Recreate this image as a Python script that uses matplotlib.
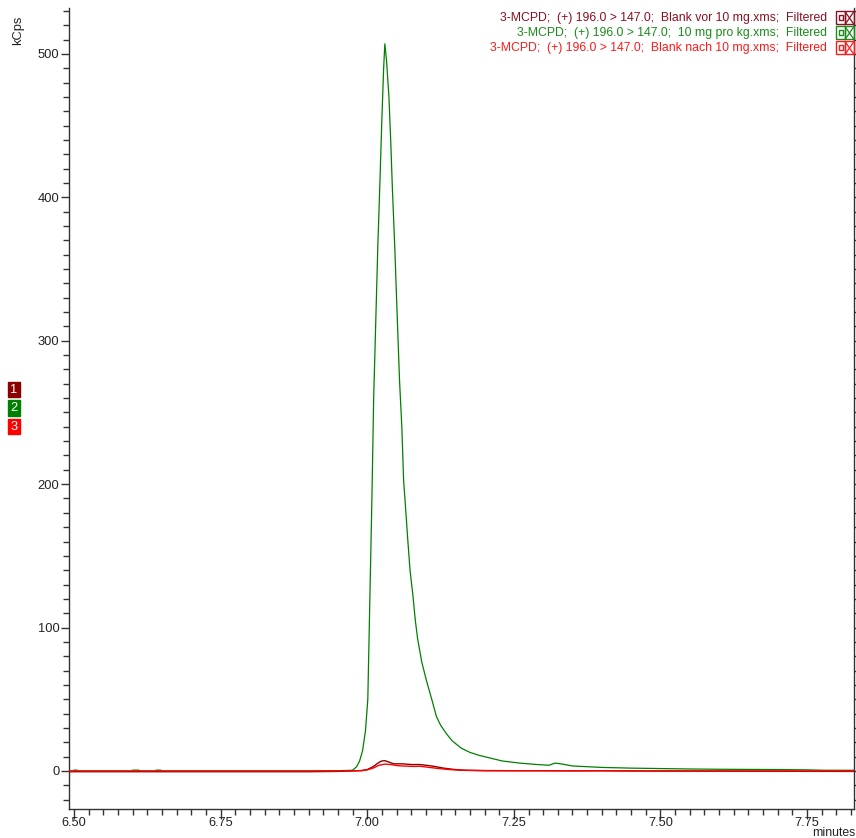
import numpy as np
import matplotlib
matplotlib.use("Agg")
import matplotlib.pyplot as plt
from matplotlib.ticker import MultipleLocator
from matplotlib.patches import Rectangle
from matplotlib.lines import Line2D

plt.rcParams['font.family'] = ['Liberation Sans', 'DejaVu Sans']

# ---- data (minutes, kCps) ----
green_t = [6.49, 6.498, 6.50, 6.505, 6.508, 6.598, 6.60, 6.61, 6.613, 6.638, 6.64, 6.648, 6.65,
           6.90, 6.95, 6.975, 6.982, 6.987, 6.992, 6.997, 7.001, 7.004, 7.008, 7.011, 7.015,
           7.018, 7.022, 7.025, 7.028, 7.030, 7.033, 7.037, 7.040, 7.043, 7.047, 7.050, 7.055,
           7.059, 7.062, 7.066, 7.069, 7.073, 7.078, 7.082, 7.086, 7.093, 7.101, 7.110, 7.118,
           7.125, 7.135, 7.145, 7.160, 7.175, 7.19, 7.21, 7.23, 7.26, 7.29, 7.31, 7.32, 7.33,
           7.35, 7.40, 7.45, 7.50, 7.55, 7.60, 7.65, 7.70, 7.75, 7.78, 7.83]
green_v = [0.0, 0.0, 0.6, 0.6, 0.0, 0.0, 0.6, 0.6, 0.0, 0.0, 0.6, 0.6, 0.0,
           0.0, 0.2, 0.5, 3, 7, 14, 28, 50, 110, 190, 260, 320,
           365, 415, 455, 490, 507, 495, 470, 440, 405, 365, 330, 273,
           240, 203, 180, 162, 140, 122, 105, 92, 76, 63, 50, 38,
           32, 26, 21, 16, 13, 11, 9, 7, 5.5, 4.5, 4, 5.5, 5,
           3.5, 2.5, 2, 1.7, 1.4, 1.2, 1.1, 1.0, 0.8, 0.5, 0.5]

darkred_t = [6.49, 6.90, 6.95, 6.99, 7.00, 7.01, 7.02, 7.025, 7.03, 7.035, 7.045, 7.06, 7.075,
             7.09, 7.11, 7.13, 7.15, 7.17, 7.20, 7.25, 7.30, 7.35, 7.40, 7.45, 7.83]
darkred_v = [-0.5, -0.5, -0.3, 0.3, 1.0, 3.0, 6.0, 7.0, 7.2, 6.5, 5.0, 5.0, 4.5,
             4.5, 3.5, 2.0, 1.0, 0.5, 0.3, 0.2, 0.2, 0.1, 0.2, 0.0, -0.3]

red_t = [6.49, 6.95, 6.99, 7.00, 7.01, 7.02, 7.03, 7.04, 7.05, 7.06, 7.08, 7.09, 7.10,
         7.12, 7.14, 7.16, 7.20, 7.83]
red_v = [0.0, 0.0, 0.2, 0.8, 2.0, 4.0, 4.8, 4.5, 3.8, 3.5, 3.2, 3.3, 2.8,
         1.8, 1.0, 0.5, 0.2, 0.0]

legend_labels = [
    "3-MCPD;  (+) 196.0 > 147.0;  Blank vor 10 mg.xms;  Filtered",
    "3-MCPD;  (+) 196.0 > 147.0;  10 mg pro kg.xms;  Filtered",
    "3-MCPD;  (+) 196.0 > 147.0;  Blank nach 10 mg.xms;  Filtered",
]
colors = ['#8b1020', '#1a8c1a', '#ff1a1a']
line_colors = ['#8b0000', '#008000', '#ff0000']
x_ticks = [6.50, 6.75, 7.00, 7.25, 7.50, 7.75]
x_tick_labels = ["6.50", "6.75", "7.00", "7.25", "7.50", "7.75"]
y_ticks = [0, 100, 200, 300, 400, 500]

W, H = 856, 838
fig = plt.figure(figsize=(W / 100, H / 100), dpi=100)
ax = fig.add_axes([69 / W, 1 - 809 / H, (854 - 69) / W, (809 - 8) / H])

ax.plot(green_t, green_v, color=line_colors[1], lw=0.9, zorder=2)
ax.plot(darkred_t, darkred_v, color=line_colors[0], lw=1.0, zorder=3)
ax.plot(red_t, red_v, color=line_colors[2], lw=1.0, zorder=4)

ax.set_xlim(6.4915, 7.83)
ax.set_ylim(-26.5, 532)

axis_col = '#333333'
for s in ['left', 'bottom', 'right']:
    ax.spines[s].set_color(axis_col)
    ax.spines[s].set_linewidth(1.0)
ax.spines['top'].set_visible(False)

ax.set_xticks(x_ticks)
ax.set_xticklabels(x_tick_labels)
ax.set_yticks(y_ticks)
ax.xaxis.set_minor_locator(MultipleLocator(0.025))
ax.yaxis.set_minor_locator(MultipleLocator(10))
ax.tick_params(axis='x', which='major', direction='out', length=7, width=1, color=axis_col,
               labelsize=9.2, pad=-1.5, labelcolor='#222222')
ax.tick_params(axis='x', which='minor', direction='out', length=4, width=1, color=axis_col)
ax.tick_params(axis='y', which='major', direction='out', length=6, width=1, color=axis_col,
               labelsize=9.3, pad=1, labelcolor='#222222')
ax.tick_params(axis='y', which='minor', direction='out', length=4, width=1, color=axis_col)
ax.tick_params(axis='y', which='both', right=True, labelright=False)

# axis labels
fig.text(18 / W, 1 - 30 / H, "kCps", rotation=90, ha='center', va='center', fontsize=9.3,
         color='#222222')
fig.text(855 / W, 1 - 836 / H, "minutes", ha='right', va='baseline', fontsize=8.8,
         color='#222222')

# legend text + icons
ys = [18, 33, 48]
for lab, c, y in zip(legend_labels, colors, ys):
    fig.text(827 / W, 1 - y / H, lab, ha='right', va='center', fontsize=8.8, color=c)
    fig.add_artist(Rectangle((836 / W, 1 - (y + 6.5) / H), 9 / W, 13 / H, transform=fig.transFigure,
                             fill=False, edgecolor=c, lw=1.0))
    fig.add_artist(Rectangle((838.5 / W, 1 - (y + 2.5) / H), 4 / W, 5 / H, transform=fig.transFigure,
                             fill=False, edgecolor=c, lw=1.0))
    fig.add_artist(Rectangle((845 / W, 1 - (y + 6.5) / H), 9 / W, 13 / H, transform=fig.transFigure,
                             fill=False, edgecolor=c, lw=1.0))
    fig.add_artist(Line2D([845 / W, 854 / W], [1 - (y - 6.5) / H, 1 - (y + 6.5) / H],
                          transform=fig.transFigure, color=c, lw=0.9))
    fig.add_artist(Line2D([845 / W, 854 / W], [1 - (y + 6.5) / H, 1 - (y - 6.5) / H],
                          transform=fig.transFigure, color=c, lw=0.9))

# trace number badges on left
badge_y = [389.5, 408, 426.5]
for i, (c, y) in enumerate(zip(line_colors, badge_y)):
    fig.text(14 / W, 1 - y / H, str(i + 1), ha='center', va='center', fontsize=9.3,
             color='white',
             bbox=dict(boxstyle='square,pad=0.15', facecolor=c, edgecolor=c, lw=1))

fig.savefig("out.png", dpi=100)
